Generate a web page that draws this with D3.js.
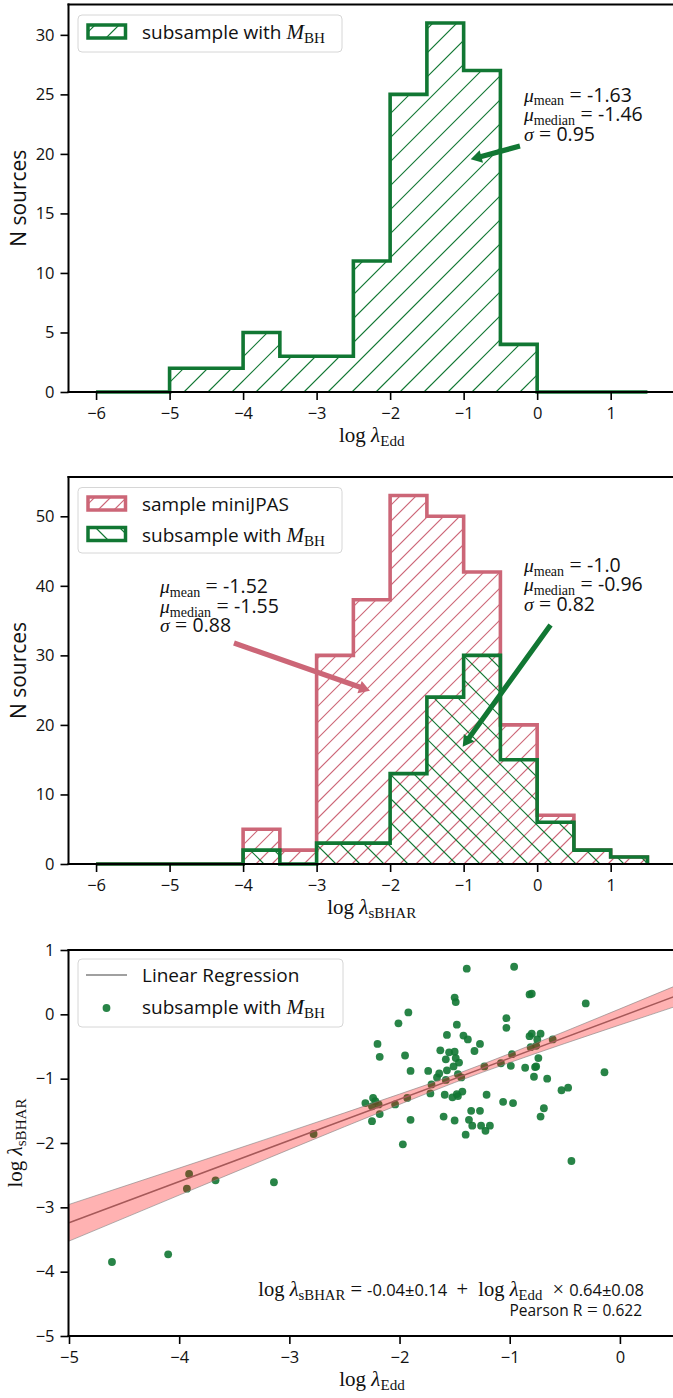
<!DOCTYPE html>
<html>
<head>
<meta charset="utf-8">
<script src="https://cdn.jsdelivr.net/npm/d3@7"></script>
<style>
  body { margin: 0; background: #fff; }
  svg text { font-family: "Open Sans", sans-serif; fill: #111; }
</style>
</head>
<body>
<div id="chart"></div>
<script>
// histogram bin edges (same for all histograms)
const binEdges = [-6,-5.5,-5,-4.5,-4,-3.5,-3,-2.5,-2,-1.5,-1,-0.5,0,0.5,1,1.5]
const eddCounts   = [0,0,2,2,5,3,3,11,25,31,27,4,0,0,0]
const sbharAll    = [0,0,0,0,5,2,30,38,53,50,42,20,7,2,1]
const sbharSub    = [0,0,0,0,2,0,3,3,13,24,30,15,6,2,1]

// scatter: log lambda_Edd vs log lambda_sBHAR
const scatterX = [-4.61,-4.10,-3.91,-3.93,-3.67,-3.14,-2.78,-2.31,-2.24,-2.22,-2.25,-2.19,-2.18,-2.25,-2.20,-2.18,-2.04,-2.01,-1.97,-1.95,-1.93,-1.92,-1.90,-1.90,-1.74,-1.72,-1.71,-1.66,-1.64,-1.63,-1.60,-1.59,-1.58,-1.57,-1.57,-1.58,-1.55,-1.52,-1.51,-1.50,-1.50,-1.50,-1.49,-1.49,-1.48,-1.48,-1.47,-1.47,-1.46,-1.44,-1.43,-1.42,-1.40,-1.39,-1.38,-1.37,-1.35,-1.34,-1.32,-1.27,-1.27,-1.26,-1.23,-1.22,-1.21,-1.18,-1.08,-1.06,-1.03,-1.03,-0.99,-0.98,-0.97,-0.96,-0.86,-0.82,-0.80,-0.82,-0.81,-0.80,-0.78,-0.77,-0.76,-0.76,-0.75,-0.74,-0.72,-0.72,-0.69,-0.66,-0.61,-0.53,-0.47,-0.44,-0.31,-0.14]
const scatterY = [-3.85,-3.73,-2.48,-2.71,-2.58,-2.61,-1.86,-1.38,-1.30,-1.35,-1.43,-1.40,-1.55,-1.66,-0.46,-0.66,-1.40,-0.14,-2.02,-0.64,-1.30,0.03,-1.64,-0.88,-0.88,-1.23,-1.09,-0.98,-0.92,-0.56,-1.59,-1.25,-1.02,-0.32,-0.87,-0.70,-0.59,-1.29,-0.81,-0.58,0.26,-1.65,0.19,-0.68,-1.24,-0.16,-1.27,-0.93,-0.75,-0.98,-1.20,-0.33,-1.87,0.71,-0.39,-1.64,-1.50,-1.73,-0.57,-0.46,-1.50,-1.73,-0.81,-1.81,-1.25,-1.73,-0.76,-1.36,-0.06,-0.21,-0.80,-0.62,-1.38,0.74,-0.83,0.31,0.32,-0.34,-0.51,-0.30,-0.97,-0.82,-0.49,-0.81,-0.39,-0.68,-0.30,-1.59,-1.46,-1.00,-0.39,-1.18,-1.14,-2.28,0.17,-0.90]

// regression + confidence band
const fitIntercept = -0.04, fitSlope = 0.64
const bandX  = [-5,-4,-3,-2,-1.5,-1,0,0.5]
const bandLo = [-3.525,-2.81,-2.10,-1.40,-1.06,-0.75,-0.165,0.12]
const bandHi = [-2.955,-2.39,-1.82,-1.24,-0.94,-0.61,0.085,0.44]

const histXTicks = [-6,-5,-4,-3,-2,-1,0,1]
const topYTicks = [0,5,10,15,20,25,30]
const midYTicks = [0,10,20,30,40,50]
const botXTicks = [-5,-4,-3,-2,-1,0]
const botYTicks = [-5,-4,-3,-2,-1,0,1]

const green = "#117733", rose = "#cc6677"
const serif = "'Liberation Serif', serif", sans = "'Open Sans', sans-serif"

const W = 673, H = 1398
const left = 68.5, right = 675

const svg = d3.select("#chart").append("svg")
  .attr("width", W).attr("height", H)
const defs = svg.append("defs")

// hatching: 45deg lines clipped to a shape (screen aligned like matplotlib)
let clipN = 0
function hatchFill(d, color, s, dir, box){
  const id = "hclip" + (clipN++)
  defs.append("clipPath").attr("id", id).append("path").attr("d", d)
  const [x0, y0, x1, y1] = box
  const cs = dir == "/"
    ? d3.range(Math.floor((x0+y0)/s), Math.ceil((x1+y1)/s)+1).map(k=>k*s)
    : d3.range(Math.floor((x0-y1)/s), Math.ceil((x1-y0)/s)+1).map(k=>k*s)
  svg.append("g").attr("clip-path","url(#" + id + ")")
    .selectAll("line").data(cs).join("line")
      .attr("x1", c => dir == "/" ? c-y1 : c+y0).attr("y1", dir == "/" ? y1 : y0)
      .attr("x2", c => dir == "/" ? c-y0 : c+y1).attr("y2", dir == "/" ? y0 : y1)
      .style("stroke", color).style("stroke-width", 1.15)
}

// math-ish text helper: parts {t, f:'rm'|'it'|'sans', sub, s}
function rich(sel, parts, size){
  let shift = 0
  parts.forEach(p => {
    const base = p.s || size
    const ts = sel.append("tspan").text(p.t)
      .style("font-family", p.f == "sans" ? sans : serif)
      .style("font-style", p.f == "it" ? "italic" : "normal")
      .style("font-size", (p.sub ? base*0.72 : base) + "px")
    const target = p.sub ? base*0.2 : 0
    if (target != shift) { ts.attr("dy", target - shift); shift = target }
  })
  return sel.style("white-space","pre")
}

function axes(x, y, xt, yt){
  const y0 = y.range()[0], y1 = y.range()[1]
  const gx = svg.append("g")
    .attr("transform","translate(0," + y0 + ")")
    .call(d3.axisBottom(x).tickValues(xt).tickSize(8).tickPadding(7).tickFormat(d3.format("d")))
  const gy = svg.append("g")
    .attr("transform","translate(" + left + ",0)")
    .call(d3.axisLeft(y).tickValues(yt).tickSize(8).tickPadding(6).tickFormat(d3.format("d")))
  ;[gx, gy].forEach(g => {
    g.select(".domain").remove()
    g.selectAll(".tick line").attr("stroke","#000").attr("stroke-width",1.6)
    g.selectAll(".tick text").style("font-family", sans).style("font-size","16.5px").attr("fill","#111")
  })
  // spines
  const sp = [[left,y0,right,y0],[left,y1,right,y1],[left,y0,left,y1],[right,y0,right,y1]]
  svg.append("g").selectAll("line").data(sp).join("line")
    .attr("x1",d=>d[0]).attr("y1",d=>d[1]).attr("x2",d=>d[2]).attr("y2",d=>d[3])
    .attr("stroke","#000").attr("stroke-width",2).attr("stroke-linecap","square")
}

function stepPoints(counts){
  const pts = [[binEdges[0],0]]
  counts.forEach((c,i) => { pts.push([binEdges[i],c]); pts.push([binEdges[i+1],c]) })
  pts.push([binEdges[binEdges.length-1],0])
  return pts
}

function histo(x, y, counts, color, s, dir){
  const line = d3.line().x(d=>x(d[0])).y(d=>y(d[1]))
  const pts = stepPoints(counts)
  hatchFill(line(pts) + "Z", color, s, dir, [left, y.range()[1], right, y.range()[0]])
  svg.append("path").attr("d", line(pts)).attr("fill","none")
    .attr("stroke", color).attr("stroke-width",3.6).attr("stroke-linejoin","miter")
}

function arrow(x1,y1,x2,y2,color){
  const dx = x2-x1, dy = y2-y1, L = Math.hypot(dx,dy)
  const ux = dx/L, uy = dy/L, px = -uy, py = ux
  const w = 2.6, hw = 6.5, hl = 11
  const bx = x2-ux*hl, by = y2-uy*hl
  const p = [[x1+px*w,y1+py*w],[bx+px*w,by+py*w],[bx+px*hw,by+py*hw],[x2,y2],
             [bx-px*hw,by-py*hw],[bx-px*w,by-py*w],[x1-px*w,y1-py*w]]
  svg.append("polygon").attr("points", p.map(d=>d.join(",")).join(" ")).attr("fill",color)
}

function statText(x, y, px, py, vals, size){
  const labels = [[{t:"μ",f:"it"},{t:"mean",f:"rm",sub:true}],
                  [{t:"μ",f:"it"},{t:"median",f:"rm",sub:true}],
                  [{t:"σ",f:"it"}]]
  labels.forEach((lab,i) => {
    const t = svg.append("text").attr("x", x(px)).attr("y", y(py) + i*19.5)
    rich(t, lab.concat([{t:" = ",f:"rm",s:size+2},{t:vals[i],f:"sans"}]), size)
  })
}

function legendBox(x0, y0, x1, y1){
  svg.append("rect").attr("x",x0).attr("y",y0).attr("width",x1-x0).attr("height",y1-y0)
    .attr("rx",4).attr("fill","#fff").attr("fill-opacity",0.8)
    .attr("stroke","#d6d6d6").attr("stroke-width",1)
}
function legendPatch(cy, color, s, dir, parts){
  const r = [88, cy-6.5, 125.5, cy+6.5]
  hatchFill(`M${r[0]},${r[1]}H${r[2]}V${r[3]}H${r[0]}Z`, color, s, dir, r)
  svg.append("rect").attr("x",r[0]).attr("y",r[1]).attr("width",r[2]-r[0]).attr("height",r[3]-r[1])
    .attr("fill","none").attr("stroke",color).attr("stroke-width",3.5)
  rich(svg.append("text").attr("x",142).attr("y",cy+7.5), parts, 19)
}
const mbhParts = [{t:"subsample with ",f:"sans"},{t:"M",f:"it",s:21},{t:"BH",f:"rm",sub:true,s:21}]

function xLabel(cx, yb, parts){
  rich(svg.append("text").attr("x",cx).attr("y",yb).attr("text-anchor","middle"), parts, 21)
}
function yLabel(xb, cy, parts, size){
  rich(svg.append("text").attr("transform","translate(" + xb + "," + cy + ") rotate(-90)")
    .attr("text-anchor","middle"), parts, size)
}

// ---------- panel 1 ----------
const x1 = d3.scaleLinear().domain([-6.375,1.875]).range([left,right])
const y1 = d3.scaleLinear().domain([0,32.55]).range([392,4.5])
histo(x1, y1, eddCounts, green, 24, "/")
axes(x1, y1, histXTicks, topYTicks)
statText(x1, y1, -0.18, 24.4, ["-1.63","-1.46","0.95"], 19.5)
arrow(x1(-0.234), y1(20.66), x1(-0.904), y1(19.55), green)
legendBox(78, 15, 342, 52)
legendPatch(31.5, green, 24, "/", mbhParts)
xLabel((left+right)/2, 442, [{t:"log ",f:"rm"},{t:"λ",f:"it"},{t:"Edd",f:"rm",sub:true}])
yLabel(26, (4.5+392)/2, [{t:"N sources",f:"sans"}], 21)

// ---------- panel 2 ----------
const x2 = d3.scaleLinear().domain([-6.375,1.875]).range([left,right])
const y2 = d3.scaleLinear().domain([0,55.65]).range([864,477])
histo(x2, y2, sbharAll, rose, 16, "/")
histo(x2, y2, sbharSub, green, 24, "\\")
axes(x2, y2, histXTicks, midYTicks)
statText(x2, y2, -5.13, 38.9, ["-1.52","-1.55","0.88"], 19.5)
statText(x2, y2, -0.18, 42.0, ["-1.0","-0.96","0.82"], 19.5)
arrow(x2(-4.124), y2(31.78), x2(-2.274), y2(24.92), rose)
arrow(x2(0.182), y2(34.37), x2(-1.013), y2(16.87), green)
legendBox(78, 487.5, 342, 553)
legendPatch(503.5, rose, 16, "/", [{t:"sample miniJPAS",f:"sans"}])
legendPatch(534, green, 24, "\\", mbhParts)
xLabel((left+right)/2, 914, [{t:"log ",f:"rm"},{t:"λ",f:"it"},{t:"sBHAR",f:"rm",sub:true}])
yLabel(26, (477+864)/2, [{t:"N sources",f:"sans"}], 21)

// ---------- panel 3 ----------
const x3 = d3.scaleLinear().domain([-5,0.5]).range([69,right])
const y3 = d3.scaleLinear().domain([-5,1]).range([1336,950])
svg.append("g").selectAll("circle")
  .data(d3.zip(scatterX, scatterY))
  .join("circle")
    .attr("cx", d=>x3(d[0])).attr("cy", d=>y3(d[1])).attr("r",3.9)
    .attr("fill", green).attr("fill-opacity",0.9)
svg.append("path")
  .attr("d", d3.line().x(d=>x3(d)).y(d=>y3(fitIntercept + fitSlope*d))([bandX[0], bandX[bandX.length-1]]))
  .attr("stroke","#808080").attr("stroke-width",1.5).attr("fill","none")
const band = bandX.map((d,i) => [d, bandLo[i], bandHi[i]])
svg.append("path")
  .attr("d", d3.area().curve(d3.curveMonotoneX).x(d=>x3(d[0])).y0(d=>y3(d[1])).y1(d=>y3(d[2]))(band))
  .attr("fill","red").attr("fill-opacity",0.3)
  .attr("stroke","#808080").attr("stroke-opacity",0.6).attr("stroke-width",1)
axes(x3, y3, botXTicks, botYTicks)

legendBox(78, 959, 343, 1027)
svg.append("line").attr("x1",86).attr("x2",127).attr("y1",975).attr("y2",975)
  .attr("stroke","#808080").attr("stroke-width",1.5)
svg.append("text").attr("x",142).attr("y",982).style("font-family",sans).style("font-size","19px").text("Linear Regression")
svg.append("circle").attr("cx",106.5).attr("cy",1008).attr("r",3.9).attr("fill",green).attr("fill-opacity",0.9)
rich(svg.append("text").attr("x",142).attr("y",1014), mbhParts, 19)

rich(svg.append("text").attr("x",644).attr("y",1296).attr("text-anchor","end"),
  [{t:"log ",f:"rm"},{t:"λ",f:"it"},{t:"sBHAR",f:"rm",sub:true},{t:" = ",f:"rm"},
   {t:"-0.04±0.14 ",f:"sans",s:16.5},{t:" + ",f:"rm"},{t:" log ",f:"rm"},{t:"λ",f:"it"},
   {t:"Edd",f:"rm",sub:true},{t:"  × ",f:"rm"},{t:"0.64±0.08",f:"sans",s:16.5}], 20.5)
rich(svg.append("text").attr("x",642).attr("y",1316).attr("text-anchor","end"),
  [{t:"Pearson R",f:"sans",s:15.5},{t:" = ",f:"rm"},{t:"0.622",f:"sans",s:15.5}], 19)

xLabel((69+right)/2, 1386, [{t:"log ",f:"rm"},{t:"λ",f:"it"},{t:"Edd",f:"rm",sub:true}])
yLabel(22, (950+1336)/2, [{t:"log ",f:"rm"},{t:"λ",f:"it"},{t:"sBHAR",f:"rm",sub:true}], 21)
</script>
</body>
</html>
